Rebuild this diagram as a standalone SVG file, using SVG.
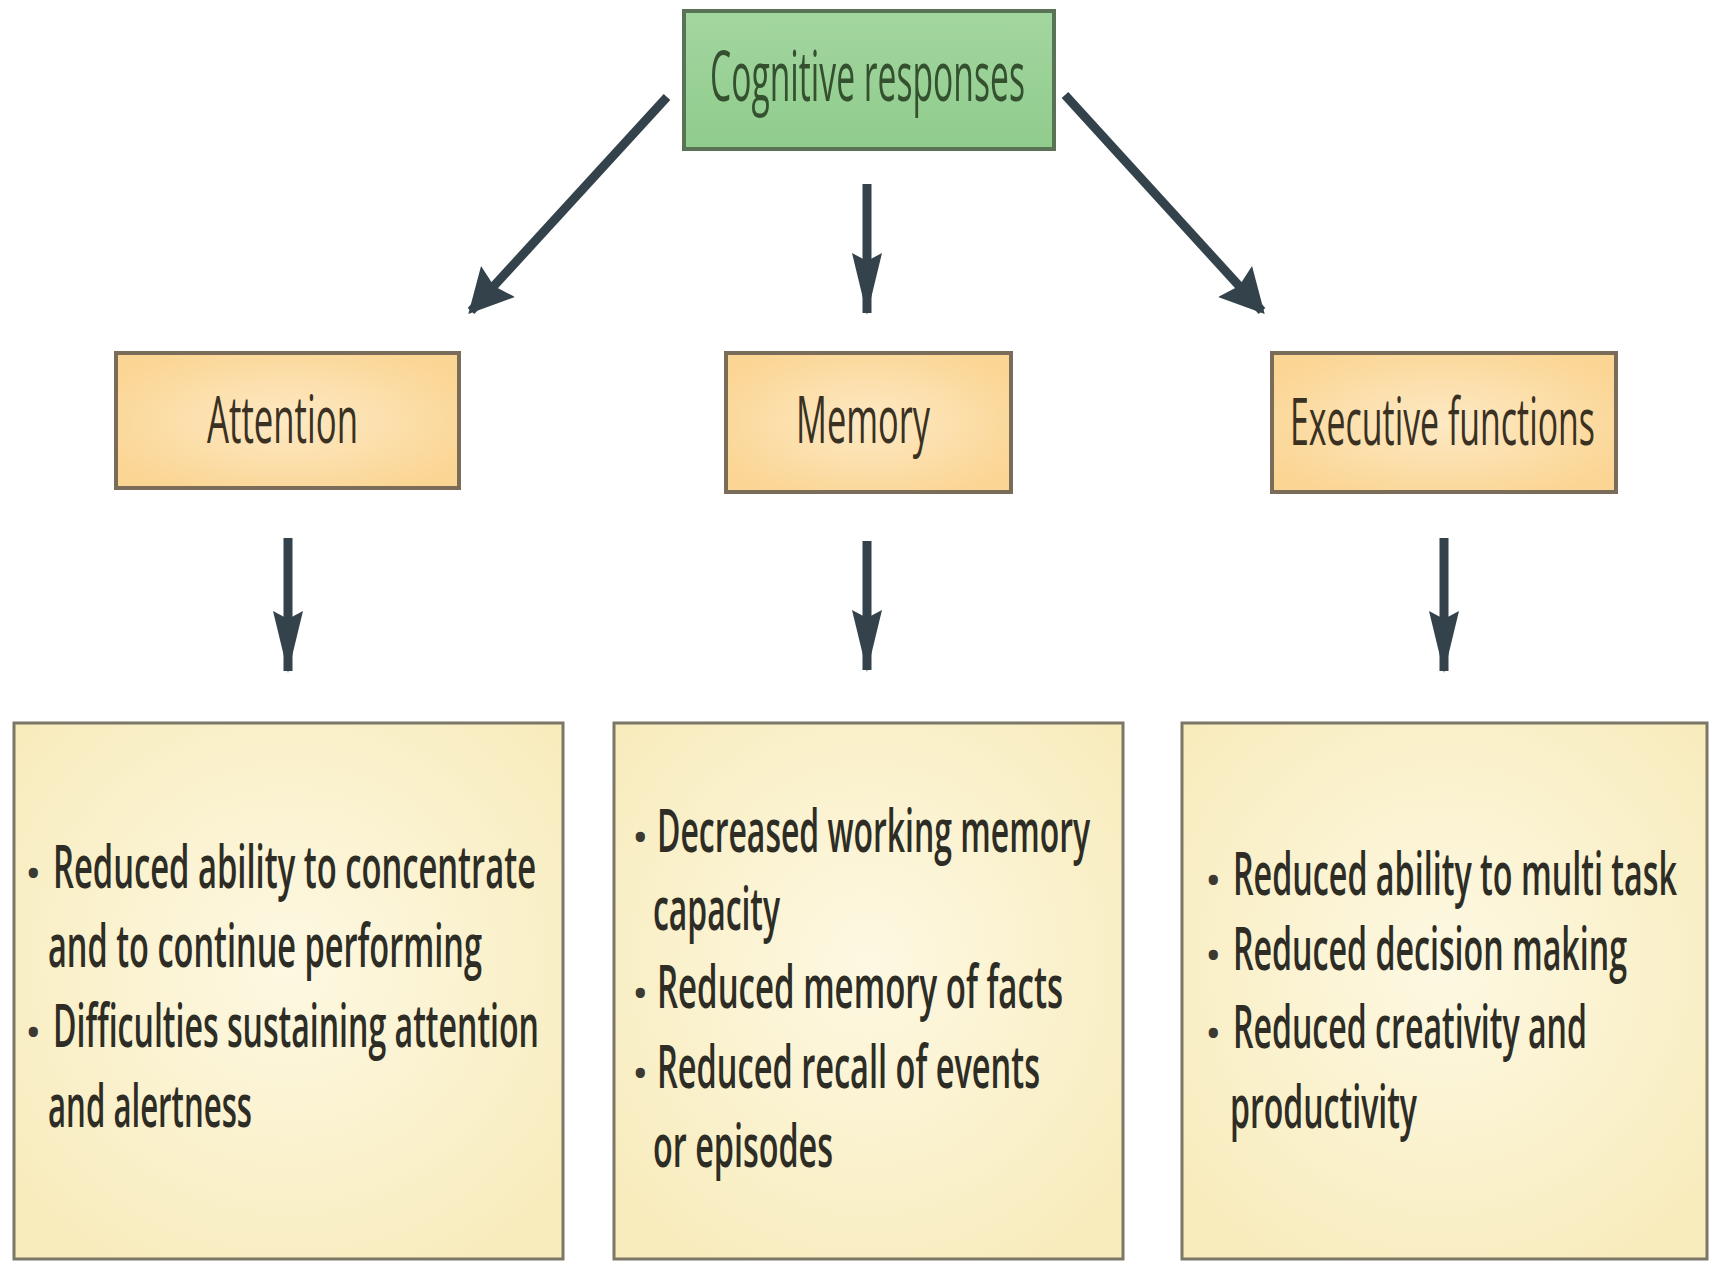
<svg xmlns="http://www.w3.org/2000/svg" width="1715" height="1261" viewBox="0 0 1715 1261">
<defs>
<radialGradient id="gOrange" cx="50%" cy="50%" r="60%">
<stop offset="0" stop-color="#fde9c4"/>
<stop offset="1" stop-color="#fbd593"/>
</radialGradient>
<radialGradient id="gCream" cx="50%" cy="45%" r="65%">
<stop offset="0" stop-color="#fdf8e2"/>
<stop offset="1" stop-color="#f8ecbd"/>
</radialGradient>
<linearGradient id="gGreen" x1="0" y1="0" x2="0" y2="1">
<stop offset="0" stop-color="#a3d6a0"/>
<stop offset="1" stop-color="#90cc8c"/>
</linearGradient>
<marker id="headDiag" markerUnits="userSpaceOnUse" markerWidth="50" markerHeight="50" refX="40" refY="23" orient="auto">
<path d="M0,0 L44,23 L0,46 L6,23 Z" fill="#34434b"/>
</marker>
<marker id="headVert" markerUnits="userSpaceOnUse" markerWidth="70" markerHeight="40" refX="60" refY="15" orient="auto">
<path d="M0,0 L62,15 L0,30 L8,15 Z" fill="#34434b"/>
</marker>
</defs>
<style>
.arrow{stroke:#34434b;stroke-width:9;fill:none;stroke-linecap:butt}
.diag{marker-end:url(#headDiag)}
.vert{marker-end:url(#headVert)}
.green{fill:url(#gGreen);stroke:#5a7356;stroke-width:4}
.orange{fill:url(#gOrange);stroke:#7a6c58;stroke-width:4}
.cream{fill:url(#gCream);stroke:#7b7767;stroke-width:3}
.t{font-family:"Open Sans","Liberation Sans",sans-serif}
.title{font-size:70px;fill:#34502f;font-weight:500}
.mid{font-size:66px;fill:#3a3123;font-weight:500}
.body{font-size:60px;fill:#2e2d25;font-weight:600}
.bul{font-size:44px;fill:#3a3a33}
</style>
<rect x="0" y="0" width="1715" height="1261" fill="#ffffff"/>

<g id="connectors">
<line class="arrow diag" x1="667" y1="97" x2="471" y2="311"/>
<line class="arrow diag" x1="1065" y1="95" x2="1262" y2="311"/>
<line class="arrow vert" x1="867" y1="184" x2="867" y2="313"/>
<line class="arrow vert" x1="288" y1="538" x2="288" y2="671"/>
<line class="arrow vert" x1="867" y1="541" x2="867" y2="670"/>
<line class="arrow vert" x1="1444" y1="538" x2="1444" y2="671"/>
</g>

<g id="cognitive">
<rect class="green" x="684" y="11" width="370" height="138"/>
<text class="t title" transform="translate(710 101) scale(0.6 1)" x="0" y="0" textLength="525" lengthAdjust="spacingAndGlyphs">Cognitive responses</text>
</g>

<g id="attention">
<rect class="orange" x="116" y="353" width="343" height="135"/>
<text class="t mid" transform="translate(207 443) scale(0.6 1)" x="0" y="0" textLength="251.7" lengthAdjust="spacingAndGlyphs">Attention</text>
</g>

<g id="memory">
<rect class="orange" x="726" y="353" width="285" height="139"/>
<text class="t mid" transform="translate(796 443) scale(0.6 1)" x="0" y="0" textLength="223.3" lengthAdjust="spacingAndGlyphs">Memory</text>
</g>

<g id="executive">
<rect class="orange" x="1272" y="353" width="344" height="139"/>
<text class="t mid" transform="translate(1290 445) scale(0.6 1)" x="0" y="0" textLength="508.3" lengthAdjust="spacingAndGlyphs">Executive functions</text>
</g>

<g id="attention-effects">
<rect class="cream" x="14" y="723" width="549" height="536"/>
<text class="t bul" x="25" y="889">•</text>
<text class="t body" transform="translate(53 888) scale(0.55 1)" x="0" y="0" textLength="878.2" lengthAdjust="spacingAndGlyphs">Reduced ability to concentrate</text>
<text class="t body" transform="translate(48 967) scale(0.55 1)" x="0" y="0" textLength="789.1" lengthAdjust="spacingAndGlyphs">and to continue performing</text>
<text class="t bul" x="25" y="1048">•</text>
<text class="t body" transform="translate(53 1047) scale(0.55 1)" x="0" y="0" textLength="883.6" lengthAdjust="spacingAndGlyphs">Difficulties sustaining attention</text>
<text class="t body" transform="translate(48 1127) scale(0.55 1)" x="0" y="0" textLength="370.9" lengthAdjust="spacingAndGlyphs">and alertness</text>
</g>

<g id="memory-effects">
<rect class="cream" x="614" y="723" width="509" height="536"/>
<text class="t bul" x="632" y="853">•</text>
<text class="t body" transform="translate(657 852) scale(0.55 1)" x="0" y="0" textLength="787.3" lengthAdjust="spacingAndGlyphs">Decreased working memory</text>
<text class="t body" transform="translate(653 930) scale(0.55 1)" x="0" y="0" textLength="230.9" lengthAdjust="spacingAndGlyphs">capacity</text>
<text class="t bul" x="632" y="1009">•</text>
<text class="t body" transform="translate(657 1008) scale(0.55 1)" x="0" y="0" textLength="738.2" lengthAdjust="spacingAndGlyphs">Reduced memory of facts</text>
<text class="t bul" x="632" y="1089">•</text>
<text class="t body" transform="translate(657 1088) scale(0.55 1)" x="0" y="0" textLength="696.4" lengthAdjust="spacingAndGlyphs">Reduced recall of events</text>
<text class="t body" transform="translate(653 1167) scale(0.55 1)" x="0" y="0" textLength="327.3" lengthAdjust="spacingAndGlyphs">or episodes</text>
</g>

<g id="executive-effects">
<rect class="cream" x="1182" y="723" width="525" height="536"/>
<text class="t bul" x="1205" y="896">•</text>
<text class="t body" transform="translate(1233 895) scale(0.55 1)" x="0" y="0" textLength="807.3" lengthAdjust="spacingAndGlyphs">Reduced ability to multi task</text>
<text class="t bul" x="1205" y="971">•</text>
<text class="t body" transform="translate(1233 970) scale(0.55 1)" x="0" y="0" textLength="716.4" lengthAdjust="spacingAndGlyphs">Reduced decision making</text>
<text class="t bul" x="1205" y="1049">•</text>
<text class="t body" transform="translate(1233 1048) scale(0.55 1)" x="0" y="0" textLength="643.6" lengthAdjust="spacingAndGlyphs">Reduced creativity and</text>
<text class="t body" transform="translate(1230 1128) scale(0.55 1)" x="0" y="0" textLength="340" lengthAdjust="spacingAndGlyphs">productivity</text>
</g>
</svg>
